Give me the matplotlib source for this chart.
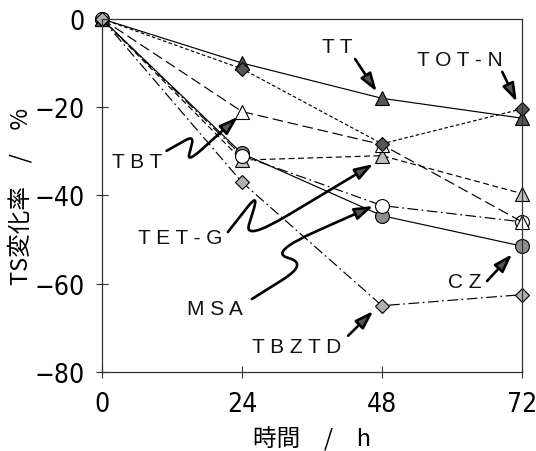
import matplotlib
matplotlib.use("Agg")
import matplotlib.pyplot as plt
from matplotlib.path import Path
from matplotlib.patches import PathPatch
from matplotlib import font_manager as fm
from matplotlib.font_manager import FontProperties
import glob

# ---- data ----
time_h = [0, 24, 48, 72]
TT = [0, -10, -18, -22.5]
TOT_N = [0, -11.3, -28.3, -20.4]
TBT = [0, -21, -28.5, -46]
TET_G = [0, -32, -31, -39.6]
CZ = [0, -30.5, -44.6, -51.5]
MSA = [0, -31, -42.3, -46]
TBZTD = [0, -37, -65, -62.5]
x_ticks = [0, 24, 48, 72]
y_ticks = [0, -20, -40, -60, -80]

# find a narrow / condensed font for tick labels
narrow = None
for f in fm.fontManager.ttflist:
    nm = f.name.lower()
    if ('narrow' in nm or 'condensed' in nm or str(f.stretch) in ('condensed', 'semi-condensed', '500')) \
            and f.style == 'normal' and f.weight in (400, 'normal', 'regular'):
        if 'mono' in nm:
            continue
        narrow = f.fname
        if 'liberation' in nm or 'dejavu' in nm:
            break
if narrow is None:
    for pat in ['/usr/share/fonts/**/LiberationSansNarrow-Regular.ttf',
                '/usr/share/fonts/**/DejaVuSansCondensed.ttf',
                '/usr/share/fonts/**/*Condensed*.ttf']:
        hits = glob.glob(pat, recursive=True)
        if hits:
            narrow = hits[0]
            break
if narrow:
    tick_fp = FontProperties(fname=narrow, size=19)
else:
    tick_fp = FontProperties(family='DejaVu Sans', stretch='condensed', size=17)

lab_font = ['Noto Sans CJK JP', 'DejaVu Sans']
ann_font = 'Liberation Sans'

fig = plt.figure(figsize=(5.36, 4.52), dpi=100)
ax = fig.add_axes([0.190, 0.175, 0.784, 0.781])

mk = dict(markeredgecolor='black', markeredgewidth=0.8, clip_on=False, color='black', lw=0.85)
ax.plot(time_h, TET_G, linestyle=(0, (5, 3)), marker='^', markersize=10, markerfacecolor='#c0c0c0', **mk)
ax.plot(time_h, CZ, linestyle='-', marker='o', markersize=10, markerfacecolor='#8c8c8c', **mk)
ax.plot(time_h, MSA, linestyle=(0, (9, 3, 1.5, 3)), marker='o', markersize=10, markerfacecolor='white', **mk)
ax.plot(time_h, TBT, linestyle=(0, (9, 4)), marker='^', markersize=10, markerfacecolor='white', **mk)
ax.plot(time_h, TT, linestyle='-', marker='^', markersize=10, markerfacecolor='#555555', **mk)
ax.plot(time_h, TOT_N, linestyle=(0, (3, 2)), marker='D', markersize=7.5, markerfacecolor='#555555', **mk)
ax.plot(time_h, TBZTD, linestyle=(0, (9, 3, 1.5, 3)), marker='D', markersize=7, markerfacecolor='#b0b0b0', **mk)

ax.set_xlim(0, 72)
ax.set_ylim(-80, 0)
ax.set_xticks(x_ticks)
ax.set_yticks(y_ticks)
ax.set_xticklabels([str(v) for v in x_ticks], fontproperties=tick_fp)
ax.set_yticklabels([str(v).replace('-', '\u2212') for v in y_ticks], fontproperties=tick_fp)
ax.tick_params(direction='inout', length=9, width=0.8, color='#333333')
ax.tick_params(axis='x', pad=9)
ax.tick_params(axis='y', pad=8)
for s in ax.spines.values():
    s.set_linewidth(0.9)
    s.set_color('#333333')

ax.set_xlabel('時間　/　h', fontfamily=lab_font, fontsize=17, labelpad=7)
ax.set_ylabel('TS変化率　/　%', fontfamily=lab_font, fontsize=17, labelpad=1)

# ---- annotations ----
head = "-|>,head_length=0.85,head_width=0.28"
def arrow(start, tip):
    ax.annotate('', xy=tip, xytext=start,
                arrowprops=dict(arrowstyle=head, lw=1.9, fc='#555555', ec='black',
                                mutation_scale=13, shrinkA=0, shrinkB=0),
                annotation_clip=False)

def squiggle(pts, tip, r=0.3):
    allp = pts + [tip]
    verts = [allp[0]]
    codes = [Path.MOVETO]
    for i in range(1, len(allp) - 1):
        p0, p1, p2 = allp[i - 1], allp[i], allp[i + 1]
        a = (p1[0] + r * (p0[0] - p1[0]), p1[1] + r * (p0[1] - p1[1]))
        b = (p1[0] + r * (p2[0] - p1[0]), p1[1] + r * (p2[1] - p1[1]))
        verts += [a, p1, b]
        codes += [Path.LINETO, Path.CURVE3, Path.CURVE3]
    ax.add_patch(PathPatch(Path(verts, codes), fill=False, lw=1.9, ec='black',
                           capstyle='round', joinstyle='round', clip_on=False))
    arrow(verts[-1], tip)

txt = dict(fontfamily=ann_font, fontsize=15, ha='center', va='center', color='#111111')
ax.text(40.3, -6.3, 'T T', **txt)
ax.text(61.4, -9.3, 'T O T - N', **txt)
ax.text(6.0, -32.4, 'T B T', **txt)
ax.text(13.4, -49.6, 'T E T - G', **txt)
ax.text(19.4, -65.7, 'M S A', **txt)
ax.text(62.1, -59.6, 'C Z', **txt)
ax.text(33.3, -74.3, 'T B Z T D', **txt)

arrow((43.4, -9.1), (47.1, -16.5))
arrow((68.6, -12.0), (71.1, -18.8))
arrow((66.0, -59.4), (70.3, -53.3))
arrow((42.2, -71.8), (46.5, -66.2))

squiggle([(11.1, -29.9), (15.8, -26.4), (14.6, -32.6)], (23.3, -22.2), r=0.3)
squiggle([(21.6, -48.3), (26.9, -39.4), (24.3, -50.5)], (46.5, -32.9), r=0.35)
squiggle([(25.7, -63.5), (35.2, -55.6), (28.8, -52.8)], (46.5, -42.4), r=0.45)

fig.savefig('out.png', dpi=100)
